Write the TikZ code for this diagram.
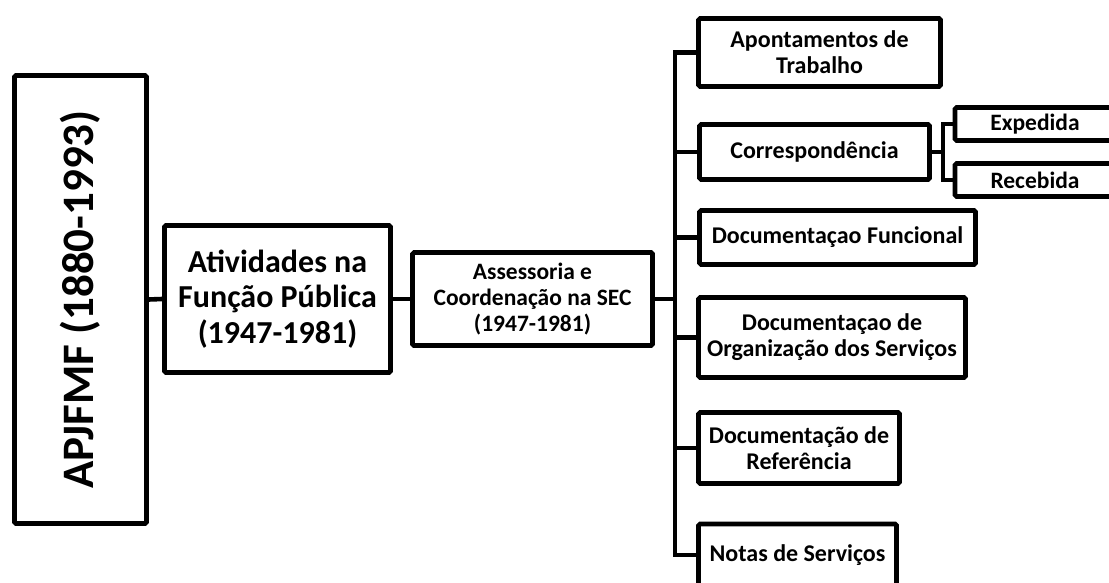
\documentclass[tikz,border=0pt]{standalone}
\usepackage{fontspec}
\setmainfont{Carlito}
\begin{document}
\begin{tikzpicture}[x=1pt,y=-1pt,
  box/.style={draw=black, line width=4.6pt, rounded corners=1.5pt, fill=white,
    align=center, inner sep=0pt, font=\bfseries\fontsize{24}{26}\selectfont},
  link/.style={draw=black, line width=4.6pt}]
\useasboundingbox (0,0) rectangle (1109,583);
\clip (0,0) rectangle (1109,583);

% root and first levels
\node[box, minimum width=132, minimum height=448, font=\bfseries\fontsize{45}{50}\selectfont]
  (root) at (80.5,299.5) {\rotatebox{90}{APJFMF (1880-1993)}};
\node[box, minimum width=226, minimum height=147, font=\bfseries\fontsize{32}{35.5}\selectfont]
  (ativ) at (277.5,299) {Atividades na\\Função Pública\\(1947-1981)};
\node[box, minimum width=240, minimum height=93, font=\bfseries\fontsize{23.5}{26}\selectfont]
  (asse) at (532.5,299) {Assessoria e\\Coordenação na SEC\\(1947-1981)};

% series
\node[box, minimum width=242, minimum height=68] (apon) at (819.5,52.5) {Apontamentos de\\Trabalho};
\node[box, minimum width=230, minimum height=55] (corr) at (814.5,152) {Correspondência};
\node[box, minimum width=276, minimum height=54] (func) at (837.5,237.5) {Documentaçao Funcional};
\node[box, minimum width=267, minimum height=80] (orga) at (832,337.5) {Documentaçao de\\Organização dos Serviços};
\node[box, minimum width=201, minimum height=71] (refe) at (799,448) {Documentação de\\Referência};
\node[box, minimum width=198, minimum height=62] (nota) at (797.5,555) {Notas de Serviços};

% sub-series of correspondence
\node[box, minimum width=160, minimum height=33, font=\bfseries\fontsize{23.5}{26}\selectfont] (expe) at (1035,124) {Expedida};
\node[box, minimum width=160, minimum height=33, font=\bfseries\fontsize{23.5}{26}\selectfont] (rece) at (1035,180) {Recebida};

% connectors
\draw[link] (root.east) -- (ativ.west);
\draw[link] (ativ.east) -- (asse.west);
\foreach \n in {apon,corr,func,orga,refe,nota}
  \draw[link] (asse.east) -- ++(20,0) |- (\n.west);
\foreach \n in {expe,rece}
  \draw[link] (corr.east) -- ++(11,0) |- (\n.west);
\end{tikzpicture}
\end{document}
